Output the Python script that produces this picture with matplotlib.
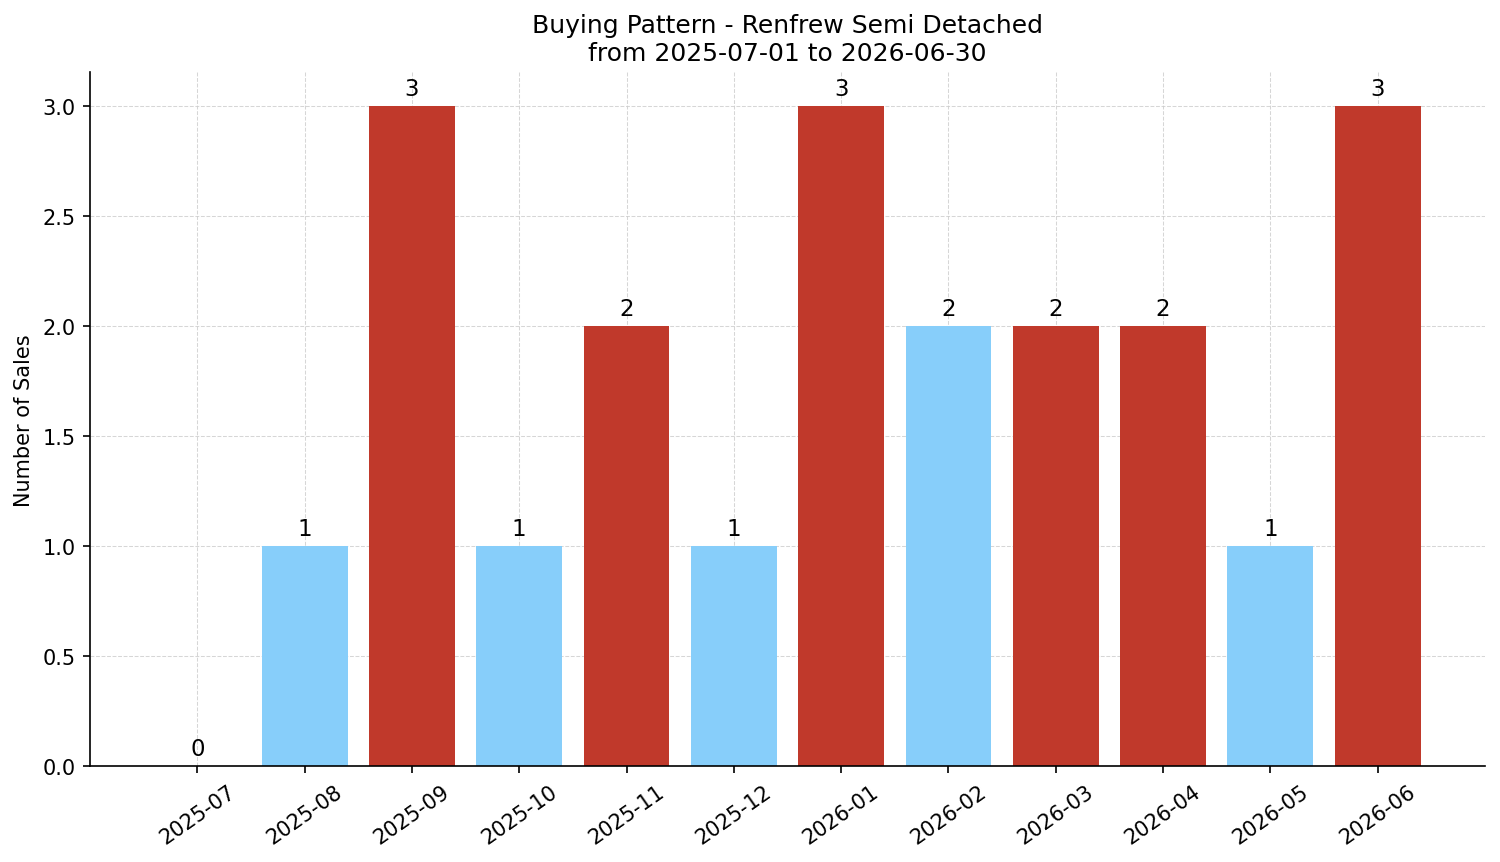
import matplotlib.pyplot as plt
import numpy as np

months = ['2025-07', '2025-08', '2025-09', '2025-10', '2025-11', '2025-12',
          '2026-01', '2026-02', '2026-03', '2026-04', '2026-05', '2026-06']
sales = [0, 1, 3, 1, 2, 1, 3, 2, 2, 2, 1, 3]
bar_colors = ['#87CEFA', '#87CEFA', '#C0392B', '#87CEFA', '#C0392B', '#87CEFA',
              '#C0392B', '#87CEFA', '#C0392B', '#C0392B', '#87CEFA', '#C0392B']

fig = plt.figure(figsize=(10.0, 5.753), dpi=150)
ax = fig.add_subplot(111)

x = np.arange(len(months))
bars = ax.bar(x, sales, color=bar_colors, width=0.8, zorder=2)

for b in bars:
    ax.text(b.get_x() + b.get_width() / 2, b.get_height() + 0.03,
            str(int(b.get_height())), ha='center', va='bottom', fontsize=11)

ax.set_xticks(x)
ax.set_xticklabels(months, rotation=35)
ax.set_ylabel('Number of Sales')
ax.set_title('Buying Pattern - Renfrew Semi Detached\nfrom 2025-07-01 to 2026-06-30', fontsize=12)
ax.set_ylim(0, 3.155)
ax.set_xlim(-1.0, 12.0)
ax.grid(True, linestyle='--', linewidth=0.5, color='#cccccc', alpha=0.8, zorder=0)
ax.spines['top'].set_visible(False)
ax.spines['right'].set_visible(False)

fig.subplots_adjust(left=0.06, right=0.99, top=0.915, bottom=0.111)
fig.savefig('out.png')
